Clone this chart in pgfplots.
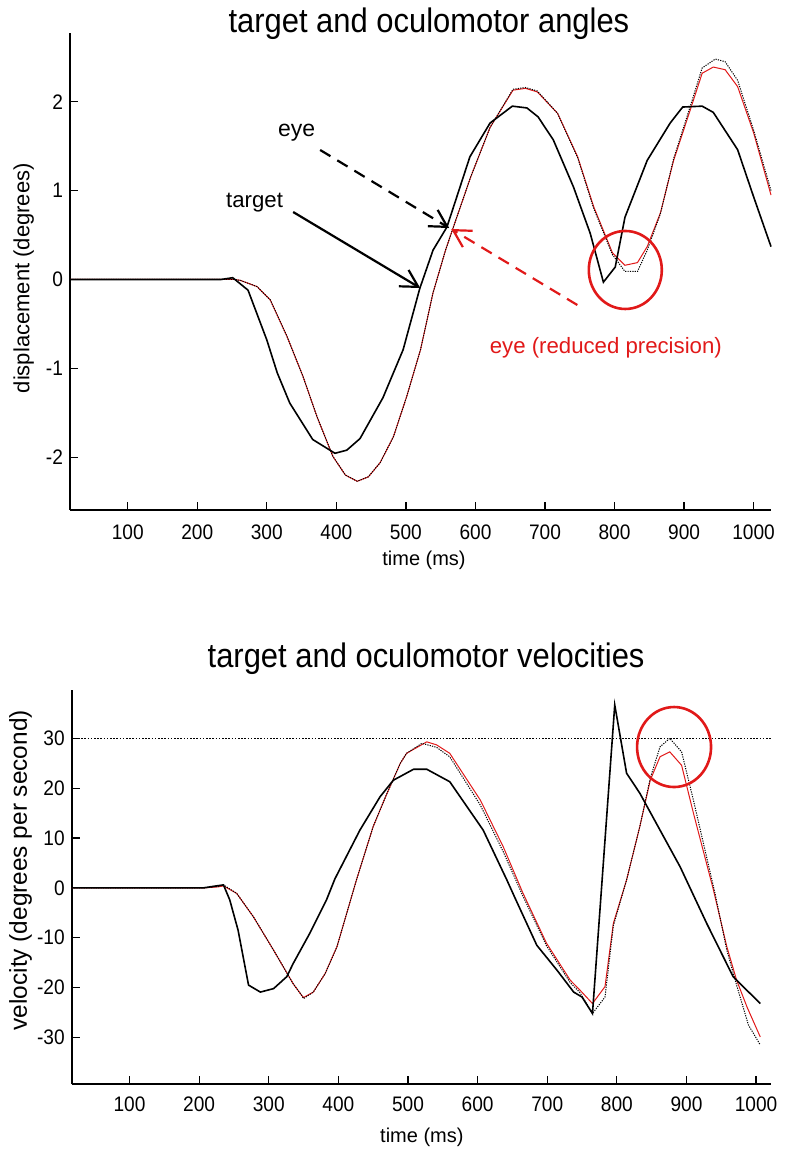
\documentclass[border=0pt]{standalone}
\usepackage{fontspec}
\setmainfont{Liberation Sans}
\newfontfamily\condfont{Liberation Sans}[FakeStretch=0.91]
\usepackage{pgfplots}
\pgfplotsset{compat=1.18}
\usetikzlibrary{arrows.meta}
\definecolor{myred}{RGB}{225,25,25}
\pgfplotsset{
  myaxis/.style={
    scale only axis,
    axis lines*=left,
    axis line style={line width=1pt,-},
    tick align=inside,
    major tick length=4pt,
    every tick/.style={black, line width=0.6pt},
    xtick={100,200,...,1000},
    minor tick num=0,
    tick label style={font=\condfont\fontsize{10.5}{12}\selectfont},
    /pgf/number format/assume math mode=true,
    /pgf/number format/1000 sep={},
    clip=false,
  },
  eyestyle/.style={black, line width=0.5pt, dash pattern=on 0.6pt off 0.6pt},
  redstyle/.style={myred, line width=0.5pt},
  tgtstyle/.style={black, line width=0.8pt},
}
\begin{document}
\begin{tikzpicture}
\useasboundingbox (0pt,0pt) rectangle (392pt,578pt);

% ---------------- top: angles ----------------
\begin{axis}[myaxis,
  at={(35pt,323pt)}, anchor=south west,
  width=350.5pt, height=238.5pt,
  xmin=17, xmax=1025, ymin=-2.593, ymax=2.773,
  ytick={-2,-1,0,1,2},
  xticklabel style={yshift=-4pt},
  xlabel={time (ms)},
  ylabel={displacement (degrees)},
  xlabel style={at={(axis description cs:0.505,-0.105)}, anchor=center, font=\fontsize{10}{12}\selectfont},
  ylabel style={at={(axis description cs:-0.066,0.486)}, anchor=center, font=\fontsize{11}{13}\selectfont},
]
\addplot[redstyle] coordinates {
(17,0) (234,0) (254,0.00) (262,-0.01) (286,-0.08) (305,-0.23) (329,-0.64) (352,-1.09)
(372,-1.54) (395,-1.99) (413,-2.20) (430,-2.27) (446,-2.22) (463,-2.06) (482,-1.77)
(501,-1.32) (521,-0.79) (539,-0.15) (557,0.33) (567,0.56) (593,1.15) (621,1.71)
(654,2.13) (672,2.15) (689,2.11) (718,1.87) (747,1.38) (770,0.82) (797,0.30)
(815,0.16) (833,0.19) (847,0.37) (866,0.75) (885,1.34) (909,1.91) (926,2.32)
(942,2.39) (959,2.36) (977,2.17) (1000,1.65) (1025,0.95)
};
\addplot[eyestyle] coordinates {
(17,0) (234,0) (254,0.00) (262,-0.01) (286,-0.08) (305,-0.23) (329,-0.64) (352,-1.09)
(372,-1.54) (395,-1.99) (413,-2.20) (430,-2.27) (446,-2.22) (463,-2.06) (482,-1.77)
(501,-1.32) (521,-0.79) (539,-0.15) (557,0.33) (567,0.56) (593,1.15) (621,1.71)
(654,2.14) (672,2.16) (689,2.12) (718,1.87) (747,1.37) (770,0.80) (797,0.28)
(815,0.09) (833,0.09) (847,0.33) (866,0.74) (885,1.36) (909,1.95) (926,2.38)
(945,2.48) (959,2.45) (977,2.24) (1000,1.68) (1025,1.00)
};
\addplot[tgtstyle] coordinates {
(17,0) (234,0) (251,0.02) (273,-0.12) (300,-0.68) (315,-1.05) (333,-1.39) (366,-1.80)
(398,-1.955) (415,-1.92) (434,-1.79) (467,-1.33) (496,-0.79) (520,-0.10) (539,0.33)
(559,0.59) (592,1.38) (621,1.76) (653,1.95) (674,1.93) (690,1.83) (712,1.57)
(741,1.04) (765,0.52) (784,-0.03) (801,0.14) (815,0.70) (847,1.34) (880,1.76)
(898,1.94) (926,1.95) (942,1.88) (977,1.46) (1000,0.93) (1025,0.37)
};
% annotations
\draw[black, line width=1.1pt, -{Straight Barb[length=8.5pt,width=9.5pt]}]
  (axis cs:337.9,0.759) -- (axis cs:520.6,-0.096);
\draw[black, line width=1.1pt, dash pattern=on 6pt off 4pt, -{Straight Barb[length=8.5pt,width=9.5pt]}]
  (axis cs:376.7,1.457) -- (axis cs:562.3,0.579);
\draw[myred, line width=1.1pt, dash pattern=on 6pt off 4pt, -{Straight Barb[length=8.5pt,width=9.5pt]}]
  (axis cs:746.5,-0.287) -- (axis cs:565.2,0.568);
\draw[myred, line width=1.3pt] (axis cs:815.5,0.107) ellipse [x radius=18.25pt, y radius=19.5pt];
\node[font=\fontsize{11.5}{13}\selectfont] at (axis cs:342.9,1.648) {eye};
\node[font=\fontsize{11.1}{13}\selectfont] at (axis cs:282.4,0.86) {target};
\node[text=myred, font=\fontsize{11.1}{13}\selectfont] at (axis cs:787.5,-0.77) {eye (reduced precision)};
\node[anchor=base, font=\condfont\fontsize{17}{20}\selectfont] at (rel axis cs:0.512,1) {target and oculomotor angles};
\end{axis}

% ---------------- bottom: velocities ----------------
\begin{axis}[myaxis,
  at={(35.85pt,35.85pt)}, anchor=south west,
  width=349.5pt, height=197.15pt,
  xmin=17, xmax=1021, ymin=-39.4, ymax=39.7,
  ytick={-30,-20,-10,0,10,20,30},
  xticklabel style={yshift=-2.8pt},
  xlabel={time (ms)},
  ylabel={velocity (degrees per second)},
  xlabel style={at={(axis description cs:0.501,-0.134)}, anchor=center, font=\fontsize{10}{12}\selectfont},
  ylabel style={at={(axis description cs:-0.073,0.543)}, anchor=center, font=\fontsize{12.2}{14}\selectfont},
]
\addplot[black, line width=0.5pt, dash pattern=on 0.8pt off 0.8pt] coordinates {(17,30) (1021,30)};
\addplot[redstyle] coordinates {
(17,0) (206,0) (227,0.2) (235,0.4) (254,-1.1) (278,-5.8) (307,-12.5) (335,-19.2)
(347,-21.5) (350,-22.0) (364,-20.9) (381,-17.2) (398,-11.8) (412,-5.1) (426,1.6)
(450,12.3) (470,19.0) (489,25.0) (498,27.0) (527,29.3) (541,28.7) (560,27.0)
(604,17.6) (637,8.2) (665,-1.0) (699,-11.1) (733,-18.5) (747,-20.5) (765,-23.2)
(783,-19.8) (795,-7.1) (814,1.6) (833,12.3) (848,21.6) (862,26.3) (876,27.3)
(893,24.6) (910,15.0) (938,0.0) (958,-11.8) (972,-18.5) (987,-23.9) (1006,-29.9)
};
\addplot[eyestyle] coordinates {
(17,0) (206,0) (227,0.3) (235,0.6) (254,-1.1) (278,-5.8) (307,-12.5) (335,-19.2)
(347,-21.5) (350,-22.2) (364,-20.9) (381,-17.2) (398,-11.8) (412,-5.1) (426,1.6)
(450,12.3) (470,19.0) (489,25.0) (498,27.0) (520,29.0) (541,28.2) (560,26.3)
(604,16.6) (637,7.2) (665,-1.6) (699,-11.6) (733,-19.0) (747,-21.0) (765,-25.2)
(783,-21.9) (795,-7.6) (814,1.6) (833,12.3) (848,22.0) (862,28.3) (876,30.0)
(893,27.3) (910,17.6) (941,-1.1) (958,-12.5) (972,-19.5) (989,-27.5) (1006,-31.5)
};
\addplot[tgtstyle] coordinates {
(17,0) (206,0) (220,0.3) (235,0.6) (244,-2.4) (256,-8.5) (271,-19.5) (288,-20.9)
(307,-20.2) (326,-17.8) (335,-15.2) (359,-9.1) (383,-2.4) (395,1.8) (431,11.6)
(460,18.3) (479,21.6) (508,23.8) (527,23.8) (560,21.3) (608,11.6) (642,1.6)
(654,-2.1) (685,-11.5) (714,-16.5) (738,-20.9) (750,-21.9) (765,-25.2) (797,36.7)
(814,23.0) (833,19.0) (862,11.6) (891,4.2) (929,-7.1) (967,-17.8) (1006,-23.2)
};
\draw[myred, line width=1.3pt] (axis cs:882.2,28.26) ellipse [x radius=18.5pt, y radius=20pt];
\node[anchor=base, font=\condfont\fontsize{17}{20}\selectfont] at (rel axis cs:0.507,1.056) {target and oculomotor velocities};
\end{axis}
\end{tikzpicture}
\end{document}
